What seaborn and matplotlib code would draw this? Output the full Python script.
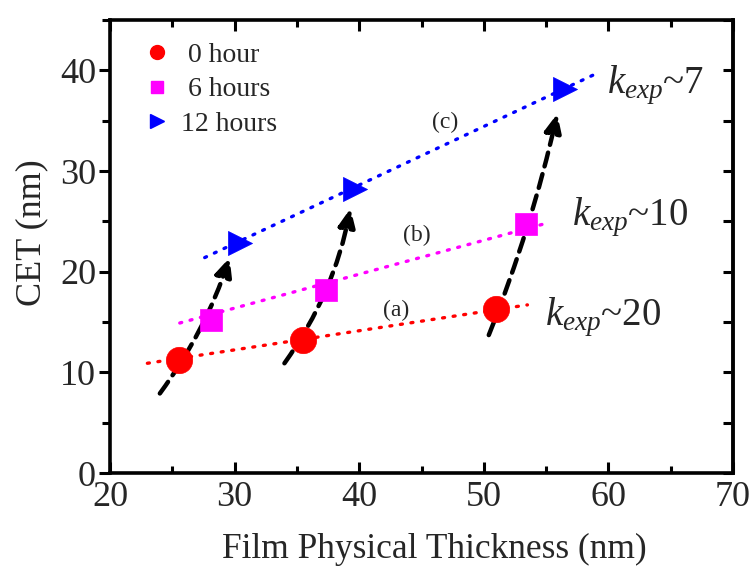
import numpy as np
import pandas as pd
import matplotlib
matplotlib.use("Agg")
import matplotlib.pyplot as plt
from matplotlib.lines import Line2D
from matplotlib.ticker import MultipleLocator
import seaborn as sns

# Measured points (film physical thickness vs CET) for each annealing time
thick_0h = [25.5, 35.5, 51.0]
cet_0h = [11.2, 13.2, 16.3]
thick_6h = [28.1, 37.3, 53.4]
cet_6h = [15.2, 18.2, 24.7]
thick_12h = [30.4, 39.7, 56.5]
cet_12h = [22.8, 28.2, 38.1]

# Linear fit lines (start/end) for series (a), (b), (c)
fit_x = [[23.0, 53.5], [25.6, 55.3], [27.6, 58.9]]
fit_y = [[10.9, 16.7], [14.9, 24.9], [21.4, 39.6]]
fit_tags = ["(a)", "(b)", "(c)"]
tag_x = [43.0, 44.6, 46.9]
tag_y = [16.1, 23.6, 34.8]

# Thickness-evolution arrows for the three films
arrow_start = [(24.0, 7.9), (34.0, 10.9), (50.4, 13.7)]
arrow_end = [(29.6, 21.4), (39.3, 26.3), (55.9, 35.7)]
arrow_bend = [0.08, 0.11, 0.04]

# Expansion factor labels
k_text = [r"$k_{exp}$~20", r"$k_{exp}$~10", r"$k_{exp}$~7"]
k_x = [54.9, 57.1, 59.9]
k_y = [14.7, 24.6, 37.7]

series_labels = [" 0 hour", " 6 hours", "12 hours"]
colors = ["#ff0000", "#ff00ff", "#0000ff"]
markers = ["o", "s", ">"]
marker_sizes = [360, 260, 300]

df = pd.DataFrame({
    "thickness": thick_0h + thick_6h + thick_12h,
    "cet": cet_0h + cet_6h + cet_12h,
    "series": [series_labels[0]] * 3 + [series_labels[1]] * 3 + [series_labels[2]] * 3,
})

sns.set_theme(style="ticks")
plt.rcParams["font.family"] = ["Liberation Serif", "DejaVu Serif"]
plt.rcParams["mathtext.fontset"] = "custom"
plt.rcParams["mathtext.rm"] = "Liberation Serif"
plt.rcParams["mathtext.it"] = "Liberation Serif:italic"

fig = plt.figure(figsize=(7.52, 5.67), dpi=100)
ax = fig.add_axes([110 / 752, 1 - 473 / 567, 623 / 752, 453 / 567])

# fitted dotted lines
for fx, fy, c in zip(fit_x, fit_y, colors):
    ax.plot(fx, fy, color=c, lw=2.4, linestyle=(0, (0.6, 2.6)),
            dash_capstyle="round", zorder=2)

# dashed arrows
for s, e, r in zip(arrow_start, arrow_end, arrow_bend):
    ax.annotate("", xy=e, xytext=s,
                arrowprops=dict(arrowstyle="-|>,head_length=0.55,head_width=0.25",
                                connectionstyle=f"arc3,rad={r}",
                                color="black", lw=3.2, linestyle=(0, (3.2, 1.8)),
                                mutation_scale=20, shrinkA=0, shrinkB=0),
                zorder=3)

# data markers
for lab, c, m, sz in zip(series_labels, colors, markers, marker_sizes):
    sub = df[df["series"] == lab]
    sns.scatterplot(data=sub, x="thickness", y="cet", ax=ax, color=c,
                    marker=m, s=sz, edgecolor=c, linewidth=0.5, zorder=4,
                    legend=False)

for t, x, y in zip(fit_tags, tag_x, tag_y):
    ax.text(x, y, t, fontsize=17, ha="center", va="center", zorder=5)

for t, x, y in zip(k_text, k_x, k_y):
    ax.text(x, y, t, fontsize=28, ha="left", va="baseline", zorder=5)

ax.set_xlim(20, 70)
ax.set_ylim(0, 45)
ax.xaxis.set_major_locator(MultipleLocator(10))
ax.xaxis.set_minor_locator(MultipleLocator(5))
ax.yaxis.set_major_locator(MultipleLocator(10))
ax.yaxis.set_minor_locator(MultipleLocator(5))
ax.set_yticks([0, 10, 20, 30, 40])

ax.set_xlabel("Film Physical Thickness (nm)", fontsize=25.5, va="center")
ax.set_ylabel("CET (nm)", fontsize=26, va="center")
ax.xaxis.set_label_coords(0.52, -0.168)
ax.yaxis.set_label_coords(-0.125, 0.53)

for sp in ax.spines.values():
    sp.set_visible(True)
    sp.set_linewidth(2.6)
    sp.set_color("black")

ax.tick_params(axis="x", which="both", direction="in", top=True, bottom=True,
               width=2.2, labelsize=26, pad=6, color="black")
ax.tick_params(axis="x", which="major", length=8)
ax.tick_params(axis="x", which="minor", length=5)
ax.tick_params(axis="y", which="both", direction="out", right=False, left=True,
               width=2.2, labelsize=26, pad=2, color="black")
ax.tick_params(axis="y", which="major", length=8)
ax.tick_params(axis="y", which="minor", length=6)

sec = ax.secondary_yaxis("right")
sec.yaxis.set_major_locator(MultipleLocator(10))
sec.yaxis.set_minor_locator(MultipleLocator(5))
sec.tick_params(which="both", direction="in", length=7, width=2.2,
                labelright=False, color="black")
sec.spines["right"].set_linewidth(2.6)

handles = [Line2D([], [], linestyle="none", marker=m, color=c, markersize=ms)
           for m, c, ms in zip(markers, colors, [10, 9, 10])]
ax.legend(handles, series_labels, loc="upper left", frameon=False,
          fontsize=20, handlelength=0.8, handletextpad=0.45, labelspacing=0.33,
          borderaxespad=0.2, borderpad=0.2, bbox_to_anchor=(0.04, 0.975))

fig.savefig("out.png", dpi=100)
